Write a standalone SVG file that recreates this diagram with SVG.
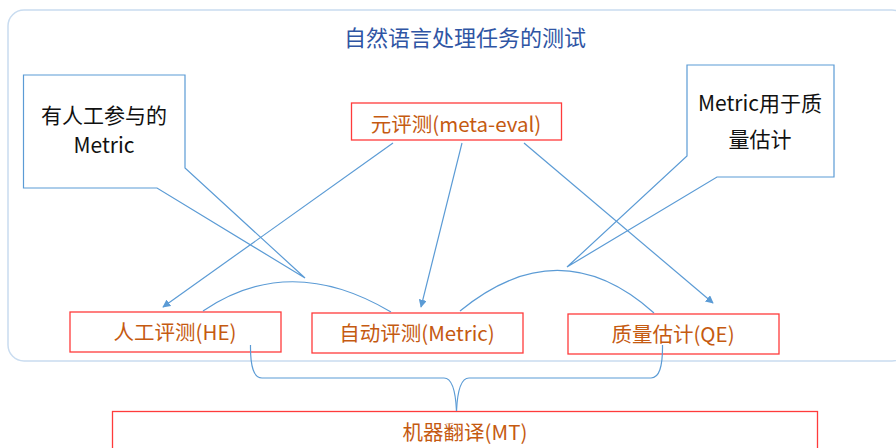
<svg xmlns="http://www.w3.org/2000/svg" width="896" height="448" viewBox="0 0 896 448">
<defs>
<style>
.frame{fill:#ffffff;stroke:#c9dcf0;stroke-width:1.5}
.box{fill:#ffffff;stroke:#ff3b3b;stroke-width:1.3}
.call{fill:#ffffff;stroke:#5b9bd5;stroke-width:1.2}
.lbl{font-family:"Noto Sans CJK SC","Noto Sans",sans-serif;font-size:20.5px;fill:#c55a11;text-anchor:middle}
.ctext{font-family:"Noto Sans CJK SC","Noto Sans",sans-serif;font-size:21px;fill:#111111;text-anchor:middle}
.title{font-family:"Noto Sans CJK SC","Noto Sans",sans-serif;font-size:22px;fill:#2f55a4;text-anchor:middle}
.ln{fill:none;stroke:#5b9bd5;stroke-width:1.2}
</style>
<marker id="ah" viewBox="0 0 10 10" refX="9" refY="5" markerWidth="8" markerHeight="8" markerUnits="userSpaceOnUse" orient="auto">
<path d="M0,0 L10,5 L0,10 z" fill="#5b9bd5"/>
</marker>
</defs>
<g id="frame">
<rect class="frame" x="8" y="10" width="900" height="351" rx="16" ry="16"/>
<text class="title" x="465" y="46">自然语言处理任务的测试</text>
</g>
<g id="callout-human">
<path class="call" d="M23.5,75 L185,75 L185,168 L305,278 L157,188 L23.5,188 Z"/>
<text class="ctext" x="104" y="123">有人工参与的</text>
<text class="ctext" x="104" y="153">Metric</text>
</g>
<g id="callout-qe">
<path class="call" d="M687,65 L834,65 L834,177 L717,177 L567,267 L687,156 Z"/>
<text class="ctext" x="760" y="111">Metric用于质</text>
<text class="ctext" x="760" y="147">量估计</text>
</g>
<g id="meta-eval">
<rect class="box" x="351.5" y="103" width="210" height="37"/>
<text class="lbl" x="456" y="132">元评测(meta-eval)</text>
</g>
<g id="he">
<rect class="box" x="70" y="312" width="211" height="40"/>
<text class="lbl" x="175" y="340">人工评测(HE)</text>
</g>
<g id="metric">
<rect class="box" x="312" y="313" width="211" height="40"/>
<text class="lbl" x="417" y="341">自动评测(Metric)</text>
</g>
<g id="qe">
<rect class="box" x="568" y="314" width="211" height="40"/>
<text class="lbl" x="673" y="342">质量估计(QE)</text>
</g>
<g id="mt">
<rect class="box" x="112.5" y="411.5" width="705" height="50"/>
<text class="lbl" x="465" y="440">机器翻译(MT)</text>
</g>
<g id="connectors">
<line class="ln" x1="393" y1="143" x2="163" y2="307" marker-end="url(#ah)"/>
<line class="ln" x1="462" y1="143" x2="421" y2="307" marker-end="url(#ah)"/>
<line class="ln" x1="524" y1="143" x2="713" y2="303" marker-end="url(#ah)"/>
<path class="ln" d="M203,311 Q290,252 391,312"/>
<path class="ln" d="M460,311 Q560,229 654,313"/>
<path class="ln" d="M250.5,345 Q250,378 262,378 L444,378 Q455,378 456.5,411"/>
<path class="ln" d="M662.5,345 Q663,378 651,378 L469,378 Q458,378 456.5,411"/>
</g>
</svg>
